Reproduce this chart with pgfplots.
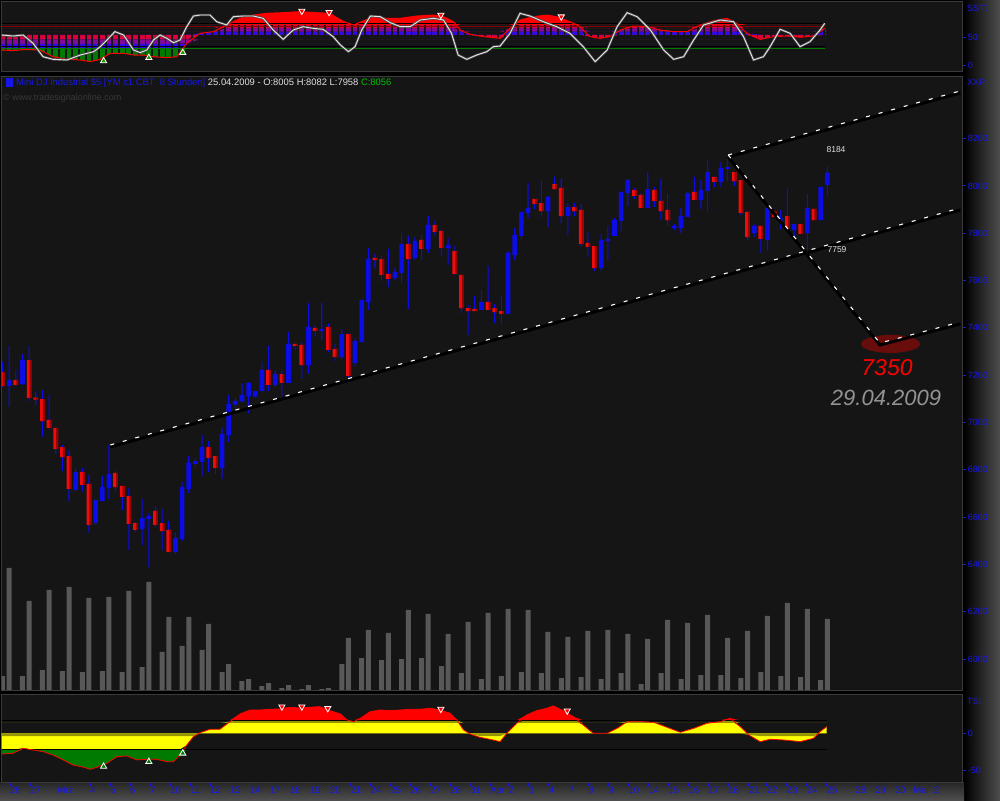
\documentclass[border=0pt]{standalone}
\usepackage{pgfplots}
\pgfplotsset{compat=1.18}
\usepackage{pgfplotstable}
\usepackage{fontspec}
\setmainfont{Liberation Sans}

\definecolor{panelbg}{RGB}{21,21,21}
\definecolor{frame}{RGB}{58,58,58}
\definecolor{upblue}{RGB}{12,12,228}
\definecolor{dnred}{RGB}{240,12,12}
\definecolor{dndark}{RGB}{150,0,0}
\definecolor{lblue}{RGB}{22,22,235}
\definecolor{volgray}{RGB}{88,88,88}
\definecolor{tsiyel}{RGB}{255,255,0}
\definecolor{tsired}{RGB}{255,0,0}
\definecolor{tsigrn}{RGB}{0,122,0}
\definecolor{oliveband}{RGB}{150,150,0}
\definecolor{ovalred}{RGB}{105,12,12}
\definecolor{histA}{RGB}{215,0,60}
\definecolor{histB}{RGB}{130,10,150}
\definecolor{histC}{RGB}{45,10,230}
\definecolor{darkline}{RGB}{130,0,0}
\definecolor{stripgray}{RGB}{78,78,78}

\pgfplotsset{chartpanel/.style={scale only axis, width=960pt, xmin=-0.12, xmax=144.2,
  axis line style={draw=frame}, axis background/.style={fill=panelbg},
  xtick=\empty, ytick pos=right, yticklabel pos=right, tick align=outside,
  major tick length=4pt, tick style={lblue, line width=1pt},
  yticklabel style={font=\fontsize{9}{9}\selectfont, text=lblue, inner sep=2pt},
  /pgf/number format/assume math mode=true, /pgf/number format/1000 sep={}},
  pricelayer/.style={scale only axis, at={(1.7pt,110pt)}, anchor=south west,
  width=960pt, height=614pt, xmin=-0.12, xmax=144.2, ymin=5869, ymax=8465, hide axis}}

% 8-hour candles, bar index j
\pgfplotstableread{
j o h l c
0 7213 7257 7151 7154
1 7154 7323 7067 7180
2 7180 7222 7154 7159
3 7163 7290 7159 7264
4 7264 7323 7088 7104
5 7104 7130 7074 7097
6 7099 7137 6940 7006
7 7011 7116 6974 6977
8 6977 6977 6867 6888
9 6896 6905 6795 6854
10 6858 6884 6668 6719
11 6715 6808 6710 6791
12 6791 6808 6709 6736
13 6740 6777 6534 6567
14 6575 6675 6567 6672
15 6668 6774 6668 6727
16 6723 6904 6677 6782
17 6787 6794 6710 6727
18 6732 6732 6630 6685
19 6689 6723 6461 6571
20 6575 6579 6537 6546
21 6550 6677 6482 6596
22 6592 6617 6389 6605
23 6626 6647 6560 6567
24 6575 6634 6461 6541
25 6546 6584 6453 6453
26 6453 6533 6444 6512
27 6507 6749 6499 6727
28 6719 6858 6702 6829
29 6825 6850 6812 6837
30 6833 6947 6774 6896
31 6896 6922 6791 6850
32 6858 6858 6782 6808
33 6808 6977 6761 6951
34 6947 7116 6918 7078
35 7076 7104 7060 7091
36 7089 7165 7085 7116
37 7110 7170 7040 7167
38 7109 7133 7105 7133
39 7133 7256 7133 7222
40 7222 7325 7133 7159
41 7159 7218 7152 7205
42 7205 7218 7102 7167
43 7167 7383 7167 7332
44 7332 7334 7307 7324
45 7328 7340 7184 7243
46 7243 7505 7207 7404
47 7400 7412 7362 7387
48 7387 7505 7349 7396
49 7404 7419 7298 7307
50 7311 7332 7260 7277
51 7277 7395 7268 7374
52 7374 7377 7192 7197
53 7252 7357 7238 7345
54 7340 7518 7340 7518
55 7510 7738 7476 7691
56 7696 7712 7653 7687
57 7691 7704 7598 7624
58 7628 7734 7573 7607
59 7611 7653 7603 7636
60 7632 7801 7590 7755
61 7755 7789 7480 7691
62 7696 7784 7687 7767
63 7772 7793 7687 7734
64 7734 7873 7717 7835
65 7835 7852 7793 7806
66 7810 7815 7704 7738
67 7738 7780 7666 7750
68 7725 7746 7624 7628
69 7624 7624 7463 7484
70 7484 7497 7370 7471
71 7480 7535 7471 7471
72 7476 7560 7476 7510
73 7510 7662 7476 7476
74 7484 7501 7421 7467
75 7471 7535 7412 7459
76 7459 7725 7459 7717
77 7708 7822 7687 7793
78 7789 7890 7776 7890
79 7886 8013 7865 7907
80 7945 7945 7903 7924
81 7928 8025 7869 7894
82 7894 7958 7827 7953
83 8008 8038 7987 7987
84 7992 8030 7844 7873
85 7873 7928 7793 7911
86 7911 7928 7873 7894
87 7899 7924 7746 7755
88 7759 7806 7700 7742
89 7746 7746 7641 7653
90 7653 7797 7641 7772
91 7767 7831 7687 7776
92 7789 7865 7789 7856
93 7852 7975 7810 7975
94 7970 8030 7915 8025
95 7983 7992 7945 7958
96 7962 7970 7907 7907
97 7907 8055 7907 7987
98 7983 7996 7911 7937
99 7937 8030 7856 7894
100 7899 7966 7831 7856
101 7822 7839 7814 7826
102 7822 7907 7801 7873
103 7869 7975 7869 7970
104 7975 8038 7941 7941
105 7941 8025 7903 7983
106 7979 8110 7894 8059
107 8038 8038 7996 8017
108 8017 8101 7996 8076
109 8072 8118 8021 8076
110 8059 8059 8000 8021
111 8025 8025 7877 7886
112 7890 7890 7772 7784
113 7801 7839 7784 7831
114 7831 7831 7717 7776
115 7772 7907 7729 7907
116 7894 7894 7869 7869
117 7855 7898 7818 7860
118 7873 7991 7814 7822
119 7814 7839 7767 7839
120 7839 7839 7797 7797
121 7801 7966 7729 7907
122 7903 7903 7856 7856
123 7856 7996 7856 7996
124 8005 8082 7958 8056
}\candles

\pgfplotstableread{
j v
0 14
1 122
3 14
4 89
6 20
7 100
9 19
10 103
12 18
13 92
15 19
16 93
18 18
19 99
21 23
22 108
24 38
25 73
27 44
28 73
30 40
31 66
33 18
34 26
36 9
37 11
39 4
40 7
42 2
43 5
45 1
46 5
48 1
49 2
51 26
52 52
54 32
55 60
57 30
58 57
60 31
61 80
63 32
64 76
66 24
67 56
69 17
70 68
72 11
73 77
75 14
76 81
78 18
79 80
81 17
82 58
84 12
85 53
87 13
88 59
90 11
91 60
93 17
94 56
96 6
97 51
99 17
100 70
102 11
103 67
105 15
106 75
108 15
109 52
111 12
112 59
114 18
115 74
117 14
118 87
120 13
121 81
123 10
124 71
}\volume

% slow stochastic: smoothed line (red) and fast line (white)
\pgfplotstableread{
j v
-0.12 28
1.6 27
3.6 29
5.6 28
7.6 16
9.7 11.4
11.7 10.2
13.2 7.2
14.7 11.4
16.2 22.1
18.2 22.1
19.7 19.1
21.2 19.1
22.7 16
24.7 14.4
26.2 16
27.7 40
29.7 57.8
31.7 60.8
33.7 72.7
35.7 84.6
37.7 90.5
39.7 93.5
42.2 94.7
44.7 96.5
47.2 94.7
49.2 93.5
51.3 78.6
52.8 72.7
54.3 80.4
55.8 87.5
57.8 84.6
59.8 84.6
62.3 88.7
64.8 90.5
66.3 87.5
67.8 78.6
68.8 63.7
70.3 56
72.3 51.9
74.8 48.9
76.3 66.7
77.8 81.6
79.8 87.5
81.8 90.5
83.3 87.5
85.3 78.6
86.8 69.7
88.3 51.9
89.8 48.9
91.3 51.9
92.9 63.7
94.9 70.9
96.9 69.7
98.9 63.7
100.9 60.8
102.9 60.8
104.9 72.7
106.9 80.4
108.9 84.6
110.4 75.6
111.9 57.8
113.9 47.1
115.9 51.9
117.9 53
119.9 50.8
121.9 53
123.6 66.7
}\sstslow

\pgfplotstableread{
j v
-0.12 54.8
1.6 53
3.1 54.8
4.6 40
6.1 16
7.6 11.4
9.7 10.2
11.7 19.1
13.7 25
14.7 34
15.7 45.9
16.9 60.8
18.2 54.8
19.7 28
20.7 23.3
21.7 28
22.7 45.9
23.7 54.8
24.7 48.9
25.7 41.1
26.7 45.9
27.7 69.7
28.7 88.7
29.7 90.5
31.2 90.5
32.2 78.6
33.7 72.7
34.7 87.5
36.2 88.7
37.7 88.7
39.2 84.6
40.7 63.7
42.2 47.1
43.7 63.7
45.2 69.7
46.7 66.7
48.2 65
49.7 51.9
50.8 37
52 25.1
53 34
54 63.7
55.3 88.7
56.8 87.5
58.3 76.8
59.8 69.7
61.3 69.7
62.8 81.6
64.8 84.6
66.3 81.6
67.5 57.8
68.5 19.1
69.8 11.4
71.3 19.1
72.8 25
73.8 34
74.8 35
76.3 57.8
77.8 93.5
79.3 88.7
81.3 78.6
83.3 69.7
85.3 57.8
87.3 34
89.1 7.2
90.9 28
92.4 69.7
93.9 94.7
95.4 87.5
97.4 63.7
99.4 28
100.9 11.4
102.4 16.1
103.9 45.9
105.4 72.7
107.9 81.6
109.9 78.6
111.4 51.9
112.9 10.2
114.4 16.1
115.4 34
116.9 65
118.4 57.8
119.9 34
121.4 43
122.9 63.7
123.6 75.6
}\sstfast

\pgfplotstableread{
j v
-0.12 -27.9
1.6 -27
3.1 -20.2
4.6 -22.5
6.1 -24.7
7.6 -29.3
9.1 -36
10.6 -42.9
12.2 -46
13.2 -48.8
14.2 -46
15.7 -40.6
17.2 -31.6
18.7 -30.6
20.2 -36
21.7 -35.2
23.2 -35.2
24.7 -38.4
25.7 -38.4
26.7 -29.3
27.7 -15.7
28.7 -4.3
29.7 1.1
31.2 5.7
32.7 5.7
34.2 16.1
35.7 26.6
37.2 32
38.7 32
40.2 33
41.7 33.4
43.2 35.7
44.7 34.8
46.2 35.7
47.7 36.6
49.2 31.1
50.8 26.6
51.8 18.4
52.8 16.1
53.8 20.7
55.3 29.8
56.8 32
58.3 31.1
59.8 32
61.3 33
62.8 33
64.3 34.3
65.8 32
67.3 27.5
68.3 18.4
69.3 4.8
70.3 -0.7
71.8 -5.2
73.3 -7.9
74.8 -11.1
75.8 0.2
77.3 13.9
78.8 25.2
80.3 31.1
81.8 34.3
82.8 37.5
84.3 31.1
85.8 23
87.3 11.6
88.8 0.2
90.9 0.2
92.4 7
93.9 16.1
95.9 16.1
97.9 15.2
99.9 8.4
101.9 1.6
103.9 7
105.9 13.9
107.9 16.1
109.4 20.7
110.9 9.3
112.2 -2
113.9 -11.1
115.4 -7.9
117.4 -8.8
119.9 -11.1
121.9 -6.6
122.9 2.5
123.9 9.3
}\tsi

% band between levels a and b of a curve, closed back to level a
\newcommand{\band}[5]{% color, table, low, high, base
  \addplot[fill=#1, draw=none] table[x=j, y expr={min(max(\thisrow{v},#3),#4)}] {#2}
    -- (axis cs:123.9,#5) -- (axis cs:-0.12,#5) -- cycle;}

\begin{document}
\begin{tikzpicture}[x=1pt,y=1pt]
\useasboundingbox (0,0) rectangle (1000,800);
\fill[black] (0,0) rectangle (1000,800);
\shade[left color=black, right color=stripgray] (964,0) rectangle (1000,800);
\shade[top color=black!85!white, bottom color=stripgray] (0,0) rectangle (964,17.5);

% ---------- main price panel ----------
\begin{axis}[chartpanel, at={(1.7pt,110pt)}, anchor=south west, height=614pt,
  ymin=5869, ymax=8465, ytick={6000,6200,...,8200}]
\fill[ovalred] (axis cs:133.5,7332) ellipse [x radius=29.5pt, y radius=9pt];
\end{axis}

% volume
\begin{axis}[scale only axis, at={(1.7pt,110pt)}, anchor=south west, width=960pt, height=614pt,
  xmin=-0.12, xmax=144.2, ymin=0, ymax=614, hide axis]
\addplot[ybar, bar width=5pt, fill=volgray, draw=none] table[x=j, y=v] {\volume};
\end{axis}

% wicks: low, then high-low stacked
\begin{axis}[pricelayer, ybar stacked, bar width=1.1pt]
\addplot[draw=none, fill=none] table[x=j, y=l] {\candles};
\addplot[draw=none, fill=upblue] table[x=j, y expr={\thisrow{h}-\thisrow{l}}] {\candles};
\end{axis}

% bodies
\begin{axis}[pricelayer, ybar stacked, bar width=4.7pt]
\addplot[draw=none, fill=none] table[x=j, y expr={min(\thisrow{o},\thisrow{c})}] {\candles};
\addplot[draw=none, fill=upblue] table[x=j, y expr={\thisrow{c}<\thisrow{o} ? 0 : max(\thisrow{c}-\thisrow{o},8)}] {\candles};
\addplot[draw=none, fill=dnred] table[x=j, y expr={\thisrow{c}<\thisrow{o} ? max(\thisrow{o}-\thisrow{c},8) : 0}] {\candles};
\end{axis}

% darker right edge of the falling bodies
\begin{axis}[pricelayer, ybar stacked, bar width=1.9pt, bar shift=1.4pt]
\addplot[draw=none, fill=none] table[x=j, y expr={min(\thisrow{o},\thisrow{c})}] {\candles};
\addplot[draw=none, fill=dndark] table[x=j, y expr={\thisrow{c}<\thisrow{o} ? max(\thisrow{o}-\thisrow{c},8) : 0}] {\candles};
\end{axis}

% trend channel
\begin{axis}[pricelayer]
\begin{scope}[black, line width=3pt, yshift=-2pt]
\draw (axis cs:16.2,6905) -- (axis cs:144,7907);
\draw (axis cs:109.1,8131) -- (axis cs:144,8402);
\draw (axis cs:109.1,8131) -- (axis cs:131.9,7336) -- (axis cs:144,7425);
\end{scope}
\begin{scope}[white, line width=1.1pt, dash pattern=on 4pt off 9pt]
\draw (axis cs:16.2,6905) -- (axis cs:144,7907);
\draw (axis cs:109.1,8131) -- (axis cs:144,8402);
\draw (axis cs:109.1,8131) -- (axis cs:131.9,7336) -- (axis cs:144,7425);
\end{scope}
\end{axis}

% ---------- slow stochastic panel ----------
\begin{axis}[chartpanel, at={(1.7pt,728.3pt)}, anchor=south west, height=70pt,
  ymin=-10.7, ymax=114.3, ytick={0,50}]
\band{histC}{\sstslow}{55}{61}{55}
\band{histB}{\sstslow}{61}{67}{61}
\band{histA}{\sstslow}{67}{73}{67}
\band{tsired}{\sstslow}{73}{200}{73}
\band{histA}{\sstslow}{47}{55}{55}
\band{histB}{\sstslow}{39}{47}{47}
\band{histC}{\sstslow}{30}{39}{39}
\band{tsigrn}{\sstslow}{-50}{30}{30}
\pgfplotsinvokeforeach{0,...,123}{\draw[panelbg, line width=1.8pt] (axis cs:#1.5,-9) -- (axis cs:#1.5,73);}
\draw[black, line width=1pt] (axis cs:-0.12,74.5) -- (axis cs:123.6,74.5);
\draw[darkline, line width=1pt] (axis cs:-0.12,70) -- (axis cs:123.6,70);
\draw[black, line width=1pt] (axis cs:-0.12,34) -- (axis cs:123.6,34);
\draw[tsigrn, line width=1pt] (axis cs:-0.12,30) -- (axis cs:123.6,30);
\addplot[tsired, line width=1pt] table[x=j, y=v] {\sstslow};
\addplot[black!70!white, line width=2.4pt] table[x=j, y=v] {\sstfast};
\addplot[white!90!black, line width=0.9pt] table[x=j, y=v] {\sstfast};
\addplot[only marks, mark=triangle*, mark size=3.6pt, mark options={rotate=180, fill=tsired, draw=white, line width=0.8pt}]
  coordinates {(45,97.7) (49.1,95.4) (65.9,90.5) (84,87.5)};
\addplot[only marks, mark=triangle*, mark size=3.6pt, mark options={fill=tsigrn!80!lime, draw=white, line width=0.8pt}]
  coordinates {(15.2,8.4) (22,14.3) (27.1,23.2)};
\end{axis}

% ---------- TSI panel ----------
\begin{axis}[chartpanel, at={(1.7pt,18.3pt)}, anchor=south west, height=87.4pt,
  ymin=-65.7, ymax=53.4, ytick={-50,0}, xtick pos=bottom,
  xtick={1.13,4.14,8.24,13.16,16.17,19.17,22.18,25.19,28.2,31.2,34.2,37.2,40.2,43.2,46.2,49.2,52.3,55.3,58.3,61.3,64.3,67.3,70.3,73.3,76.1,79.1,82.1,85.2,88.1,91.1,94.1,97.1,100.1,103.1,106.1,109.1,112.2,114.9,117.9,120.9,123.9,128.2,131.2,134.2,136.9,140.0},
  xticklabels={26,27,Mrz,4,5,6,7,10,11,12,13,14,17,18,19,20,21,24,25,26,27,28,31,Apr,2,3,4,7,8,9,10,14,15,16,17,18,21,22,23,24,25,28,29,30,Mai,2},
  xticklabel style={font=\fontsize{9.5}{9.5}\selectfont, text=lblue, anchor=north west, xshift=-1pt, inner sep=1pt}]
\band{tsiyel}{\tsi}{-21.5}{18}{0}
\band{oliveband}{\tsi}{14.5}{18}{14.5}
\band{oliveband}{\tsi}{-3.5}{0}{0}
\band{tsired}{\tsi}{18}{100}{18}
\band{tsigrn}{\tsi}{-100}{-21.5}{-21.5}
\draw[black, line width=1pt] (axis cs:-0.12,18) -- (axis cs:123.9,18);
\draw[black, line width=1pt] (axis cs:-0.12,-21.5) -- (axis cs:123.9,-21.5);
\addplot[tsired, line width=0.8pt] table[x=j, y=v] {\tsi};
\addplot[only marks, mark=triangle*, mark size=3.6pt, mark options={rotate=180, fill=tsired, draw=white, line width=0.8pt}]
  coordinates {(42,36.5) (45,36.5) (48.9,34.3) (65.9,33.3) (84.9,31)};
\addplot[only marks, mark=triangle*, mark size=3.6pt, mark options={fill=tsigrn, draw=white, line width=0.8pt}]
  coordinates {(15.2,-45) (22,-38.4) (27.1,-27)};
\end{axis}

% ---------- texts ----------
\fill[lblue] (6,712.7) rectangle (13,721.7);
\node[anchor=base west, inner sep=0pt, font=\fontsize{9.4}{9.4}\selectfont] at (16,714)
  {\color{lblue}Mini DJ Industrial \$5 [YM c1 CBT\ \ 8 Stunden]\ \color{white!88!black}25.04.2009 - O:8005 H:8082 L:7958 \color{green!75!black}C:8056};
\node[anchor=base west, inner sep=0pt, font=\fontsize{9}{9}\selectfont, text=black!78!white] at (3,699)
  {© www.tradesignalonline.com};
\node[anchor=center, font=\fontsize{8.5}{8.5}\selectfont, text=white!88!black] at (836,650) {8184};
\node[anchor=center, font=\fontsize{8.5}{8.5}\selectfont, text=white!88!black] at (837,550) {7759};
\node[anchor=center, font=\itshape\fontsize{23}{23}\selectfont, text=red] at (887,432) {7350};
\node[anchor=center, font=\itshape\fontsize{22}{22}\selectfont, text=gray!85!white] at (886,402) {29.04.2009};
\begin{scope}
\clip (964,770) rectangle (987,800);
\node[anchor=west, font=\fontsize{9}{9}\selectfont, text=lblue, inner sep=0pt] at (967,792) {SSTOC};
\end{scope}
\node[anchor=west, font=\fontsize{9}{9}\selectfont, text=lblue, inner sep=0pt] at (967,718) {XXP};
\node[anchor=west, font=\fontsize{9}{9}\selectfont, text=lblue, inner sep=0pt] at (967,99) {TSI};
\end{tikzpicture}
\end{document}
